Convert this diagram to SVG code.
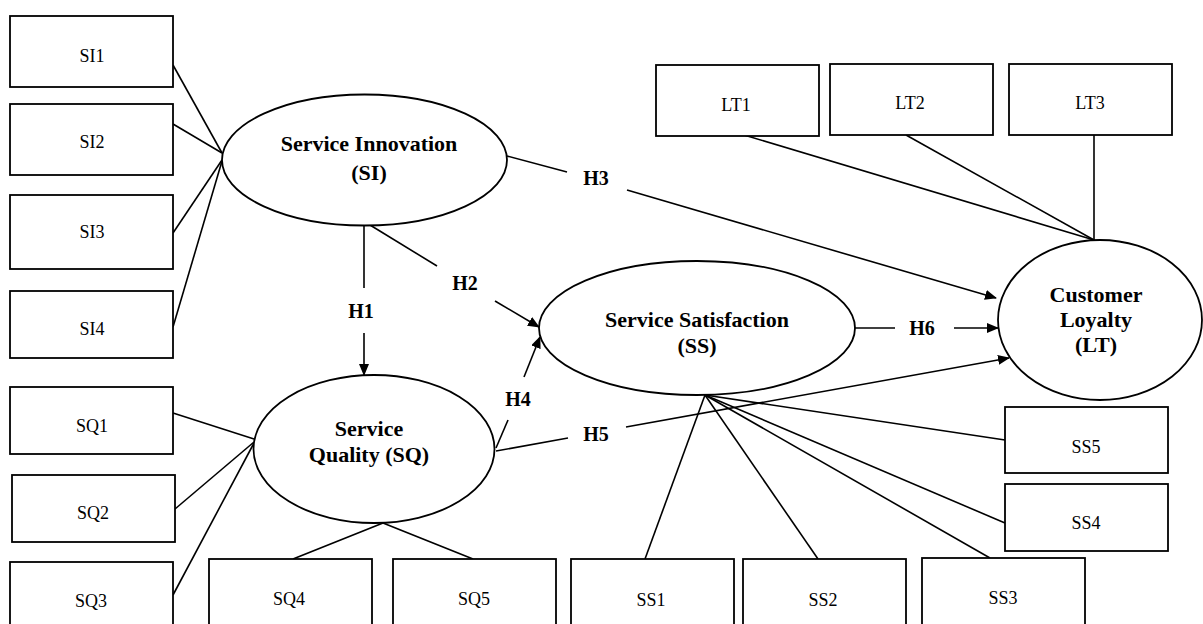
<svg xmlns="http://www.w3.org/2000/svg" width="1203" height="624" viewBox="0 0 1203 624">
<style>
.box{fill:#fff;stroke:#000;stroke-width:1.8}
.ell{fill:#fff;stroke:#000;stroke-width:1.8}
.lbl{font-family:"Liberation Serif","Times New Roman",serif;font-size:18px;text-anchor:middle;fill:#000}
.big{font-family:"Liberation Serif","Times New Roman",serif;font-size:22px;font-weight:bold;text-anchor:middle;fill:#000}
.h{font-family:"Liberation Serif","Times New Roman",serif;font-size:20px;font-weight:bold;text-anchor:middle;fill:#000}
.ln{fill:none;stroke:#000;stroke-width:1.6}
.ar{fill:none;stroke:#000;stroke-width:1.6;marker-end:url(#arr)}
</style>
<defs>
<marker id="arr" markerUnits="userSpaceOnUse" markerWidth="12" markerHeight="10" refX="11" refY="5" orient="auto">
<path d="M0,0 L12,5 L0,10 Z" fill="#000"/>
</marker>
</defs>
<rect width="1203" height="624" fill="#fff"/>
<g id="connectors">
<line class="ln" x1="173" y1="65" x2="222" y2="153"/>
<line class="ln" x1="173" y1="124" x2="222" y2="153"/>
<line class="ln" x1="173" y1="233" x2="222" y2="160"/>
<line class="ln" x1="173" y1="327" x2="222" y2="161"/>
<line class="ln" x1="173" y1="413" x2="254" y2="439"/>
<line class="ln" x1="175" y1="509" x2="254" y2="442"/>
<line class="ln" x1="173" y1="595" x2="254" y2="443"/>
<line class="ln" x1="383" y1="523" x2="293" y2="559"/>
<line class="ln" x1="383" y1="523" x2="473" y2="559"/>
<line class="ln" x1="705" y1="395" x2="645" y2="559"/>
<line class="ln" x1="705" y1="395" x2="818" y2="559"/>
<line class="ln" x1="705" y1="395" x2="990" y2="558"/>
<line class="ln" x1="705" y1="395" x2="1005" y2="523"/>
<line class="ln" x1="705" y1="395" x2="1005" y2="440"/>
<line class="ln" x1="744" y1="135" x2="1094" y2="240"/>
<line class="ln" x1="906" y1="135" x2="1094" y2="240"/>
<line class="ln" x1="1094" y1="135" x2="1094" y2="240"/>
<line class="ln" x1="364" y1="225" x2="364" y2="288"/>
<line class="ar" x1="364" y1="333" x2="364" y2="375"/>
<line class="ln" x1="370" y1="225" x2="437" y2="266"/>
<line class="ar" x1="495" y1="301" x2="539" y2="327"/>
<line class="ln" x1="507" y1="156" x2="567" y2="172"/>
<line class="ar" x1="627" y1="190" x2="996" y2="298"/>
<line class="ln" x1="496" y1="448" x2="508" y2="420"/>
<line class="ar" x1="524" y1="377" x2="540" y2="337"/>
<line class="ln" x1="496" y1="451" x2="568" y2="438"/>
<line class="ar" x1="626" y1="427" x2="1009" y2="358"/>
<line class="ln" x1="855" y1="328" x2="895" y2="328"/>
<line class="ar" x1="954" y1="328" x2="998" y2="328"/>
<text class="h" x="361" y="318">H1</text>
<text class="h" x="465" y="290">H2</text>
<text class="h" x="596" y="185">H3</text>
<text class="h" x="518" y="406">H4</text>
<text class="h" x="596" y="441">H5</text>
<text class="h" x="922" y="335">H6</text>
</g>
<g id="SI1"><rect class="box" x="10" y="16" width="163" height="71"/><text class="lbl" x="92" y="62">SI1</text></g>
<g id="SI2"><rect class="box" x="10" y="104" width="163" height="71"/><text class="lbl" x="92" y="148">SI2</text></g>
<g id="SI3"><rect class="box" x="10" y="195" width="163" height="74"/><text class="lbl" x="92" y="238">SI3</text></g>
<g id="SI4"><rect class="box" x="10" y="291" width="163" height="67"/><text class="lbl" x="92" y="335">SI4</text></g>
<g id="SQ1"><rect class="box" x="10" y="387" width="163" height="67"/><text class="lbl" x="92" y="432">SQ1</text></g>
<g id="SQ2"><rect class="box" x="12" y="475" width="163" height="67"/><text class="lbl" x="93" y="519">SQ2</text></g>
<g id="SQ3"><rect class="box" x="10" y="562" width="163" height="80"/><text class="lbl" x="91" y="607">SQ3</text></g>
<g id="SQ4"><rect class="box" x="209" y="559" width="163" height="80"/><text class="lbl" x="289" y="605">SQ4</text></g>
<g id="SQ5"><rect class="box" x="393" y="559" width="163" height="80"/><text class="lbl" x="474" y="605">SQ5</text></g>
<g id="SS1"><rect class="box" x="571" y="559" width="163" height="80"/><text class="lbl" x="651" y="606">SS1</text></g>
<g id="SS2"><rect class="box" x="743" y="559" width="163" height="80"/><text class="lbl" x="823" y="606">SS2</text></g>
<g id="SS3"><rect class="box" x="922" y="558" width="163" height="80"/><text class="lbl" x="1003" y="604">SS3</text></g>
<g id="SS5"><rect class="box" x="1005" y="407" width="163" height="66"/><text class="lbl" x="1086" y="453">SS5</text></g>
<g id="SS4"><rect class="box" x="1005" y="484" width="163" height="67"/><text class="lbl" x="1086" y="529">SS4</text></g>
<g id="LT1"><rect class="box" x="656" y="65" width="163" height="71"/><text class="lbl" x="736" y="111">LT1</text></g>
<g id="LT2"><rect class="box" x="830" y="64" width="163" height="71"/><text class="lbl" x="910" y="109">LT2</text></g>
<g id="LT3"><rect class="box" x="1009" y="64" width="163" height="71"/><text class="lbl" x="1090" y="109">LT3</text></g>
<g id="SI"><ellipse class="ell" cx="364.5" cy="160" rx="142.5" ry="65.5"/><text class="big" x="369" y="151">Service Innovation</text><text class="big" x="369" y="180">(SI)</text></g>
<g id="SQ"><ellipse class="ell" cx="374" cy="449" rx="120.5" ry="74"/><text class="big" x="369" y="436">Service</text><text class="big" x="369" y="462">Quality (SQ)</text></g>
<g id="SS"><ellipse class="ell" cx="697" cy="328" rx="158" ry="67"/><text class="big" x="697" y="327">Service Satisfaction</text><text class="big" x="697" y="353">(SS)</text></g>
<g id="LT"><ellipse class="ell" cx="1100" cy="320" rx="102" ry="80"/><text class="big" x="1096" y="302">Customer</text><text class="big" x="1096" y="327">Loyalty</text><text class="big" x="1096" y="352">(LT)</text></g>
</svg>
